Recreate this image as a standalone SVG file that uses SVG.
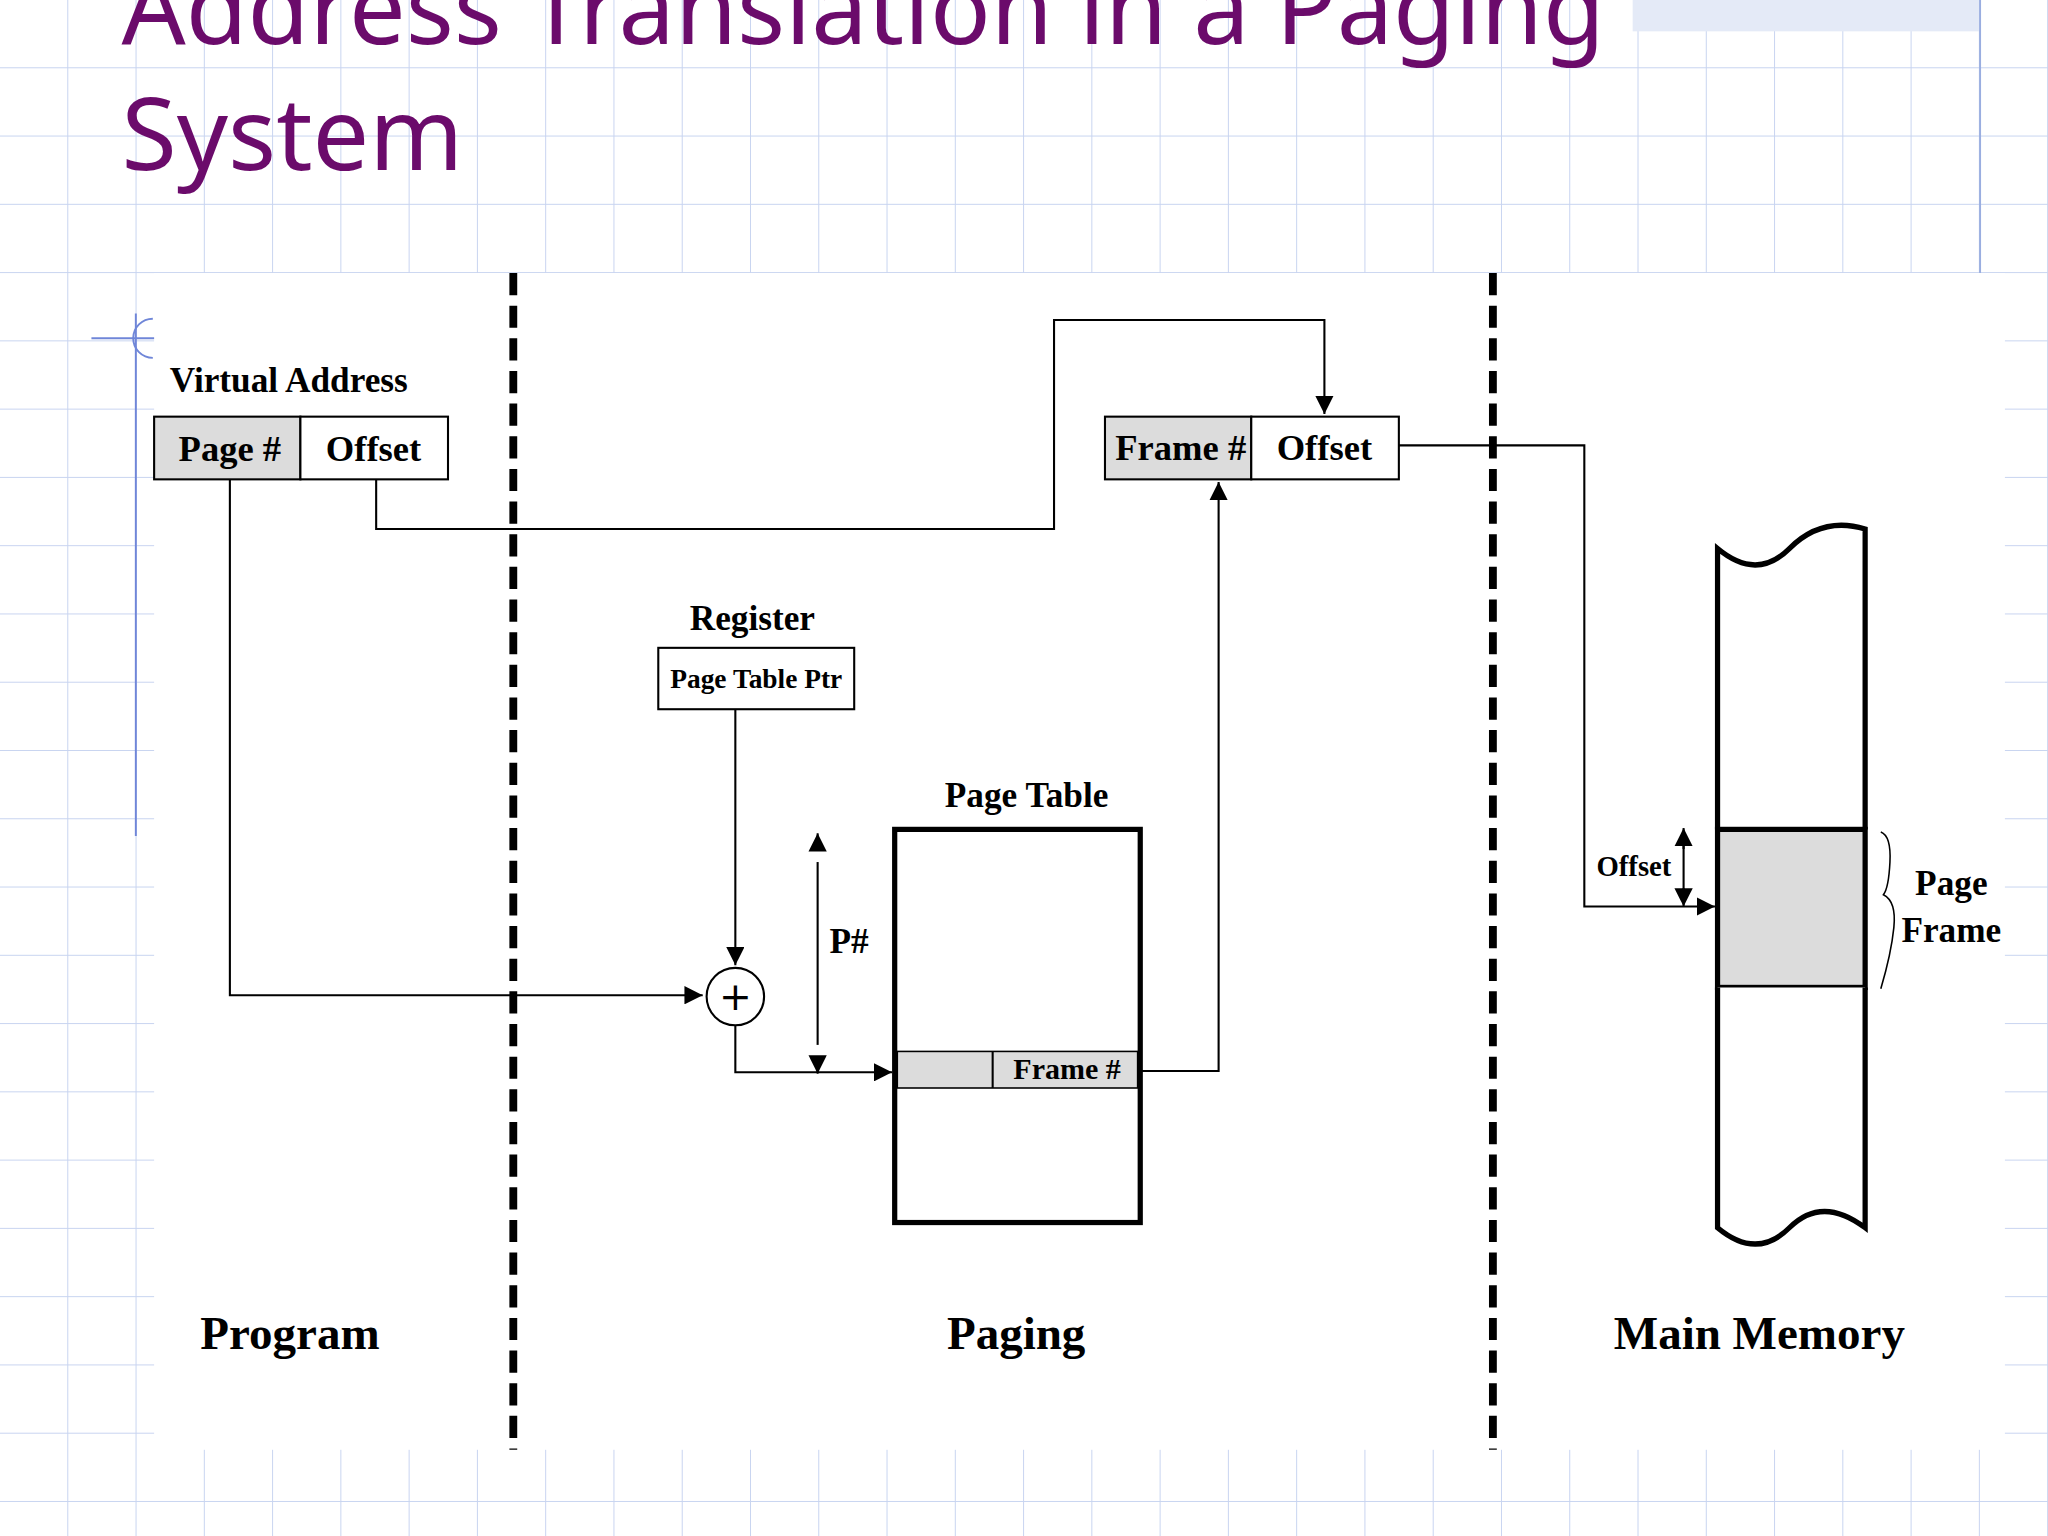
<svg xmlns="http://www.w3.org/2000/svg" width="2048" height="1536" viewBox="0 0 2048 1536">
<defs>
<pattern id="grid" x="0" y="0" width="52.27" height="52.27" patternUnits="userSpaceOnUse">
<path d="M52.27 0V52.27M0 52.27H52.27" fill="none" stroke="#c8d4f0" stroke-width="1.5"/>
</pattern>
<marker id="ah" viewBox="0 0 10 10" refX="10" refY="5" markerWidth="14" markerHeight="14" markerUnits="userSpaceOnUse" orient="auto"><path d="M0 0L10 5L0 10z" fill="#000"/></marker>
<style>
.s{font-family:"Liberation Serif",serif;font-weight:bold;fill:#000}
.ln{fill:none;stroke:#000;stroke-width:1.6}
.bx{stroke:#000;stroke-width:1.6}
.dash{stroke:#000;stroke-width:6;stroke-dasharray:17 8}
</style>
</defs>
<g transform="scale(1.30612)">
<rect width="1568" height="1176" fill="#fff"/>
<rect width="1568" height="1176" fill="url(#grid)"/>
<rect x="1250" y="0" width="266" height="24" fill="#e4eaf7"/>
<line x1="1516" y1="0" x2="1516" y2="209" stroke="#9aaee0" stroke-width="1.5"/>
<rect x="118" y="209" width="1417" height="901" fill="#fff"/>
<line x1="104" y1="240" x2="104" y2="640" stroke="#6f86d8" stroke-width="1.5"/>
<line x1="70" y1="259" x2="118" y2="259" stroke="#6f86d8" stroke-width="1.5"/>
<path d="M117 244A15 15 0 1 0 117 274" fill="none" stroke="#6f86d8" stroke-width="1.5"/>
<text x="93" y="34" font-family="'Noto Sans',sans-serif" font-size="77" fill="#6b0b6b">Address Translation in a Paging</text>
<text x="93" y="130" font-family="'Noto Sans',sans-serif" font-size="77" fill="#6b0b6b">System</text>
<g id="dividers"><line class="dash" x1="393" y1="209" x2="393" y2="1110"/><line class="dash" x1="1143" y1="209" x2="1143" y2="1110"/></g>
<g id="virtual-address">
<text class="s" x="130" y="300" font-size="27">Virtual Address</text>
<rect class="bx" x="118" y="319" width="112" height="48" fill="#dcdcdc"/>
<rect class="bx" x="230" y="319" width="113" height="48" fill="#fff"/>
<text class="s" x="176" y="353" font-size="28" text-anchor="middle">Page #</text>
<text class="s" x="286" y="353" font-size="28" text-anchor="middle">Offset</text>
</g>
<g id="physical-address">
<rect class="bx" x="846" y="319" width="112" height="48" fill="#dcdcdc"/>
<rect class="bx" x="958" y="319" width="113" height="48" fill="#fff"/>
<text class="s" x="904" y="352" font-size="28" text-anchor="middle">Frame #</text>
<text class="s" x="1014" y="352" font-size="28" text-anchor="middle">Offset</text>
</g>
<g id="register">
<text class="s" x="576" y="482" font-size="27" text-anchor="middle">Register</text>
<rect class="bx" x="504" y="496" width="150" height="47" fill="#fff"/>
<text class="s" x="579" y="527" font-size="21" text-anchor="middle">Page Table Ptr</text>
</g>
<g id="adder"><circle cx="563" cy="763" r="22" fill="#fff" stroke="#000" stroke-width="1.6"/><text x="563" y="773" font-family="'DejaVu Sans',sans-serif" font-size="30" text-anchor="middle">+</text></g>
<g id="page-table">
<text class="s" x="786" y="618" font-size="27" text-anchor="middle">Page Table</text>
<rect x="685" y="635" width="188" height="301" fill="#fff" stroke="#000" stroke-width="4"/>
<rect x="687" y="805" width="184" height="28" fill="#dcdcdc" stroke="#000" stroke-width="1.2"/>
<line class="ln" x1="760" y1="805" x2="760" y2="833"/>
<text class="s" x="817" y="826" font-size="23" text-anchor="middle">Frame #</text>
<text class="s" x="650" y="730" font-size="27" text-anchor="middle">P#</text>
</g>
<g id="main-memory">
<path d="M1315 635V420Q1345 445 1370 420T1428 405V635" fill="#fff" stroke="#000" stroke-width="4"/>
<rect x="1315" y="635" width="113" height="121" fill="#dcdcdc" stroke="#000" stroke-width="4"/>
<path d="M1315 756V940Q1345 965 1370 940T1428 940V756" fill="#fff" stroke="#000" stroke-width="4"/>
<path d="M1440 637Q1448 640 1447 660T1442 685Q1452 690 1450 710T1440 757" fill="none" stroke="#000" stroke-width="1.2"/>
<text class="s" x="1494" y="685" font-size="27" text-anchor="middle">Page</text>
<text class="s" x="1494" y="721" font-size="27" text-anchor="middle">Frame</text>
<text class="s" x="1251" y="671" font-size="22" text-anchor="middle">Offset</text>
</g>
<g id="labels">
<text class="s" x="222" y="1033" font-size="36" text-anchor="middle">Program</text>
<text class="s" x="778" y="1033" font-size="36" text-anchor="middle">Paging</text>
<text class="s" x="1347" y="1033" font-size="36" text-anchor="middle">Main Memory</text>
</g>
<g id="connectors">
<polyline class="ln" points="176,367 176,762 538,762" marker-end="url(#ah)"/>
<polyline class="ln" points="288,367 288,405 807,405 807,245 1014,245 1014,317" marker-end="url(#ah)"/>
<polyline class="ln" points="563,543 563,739" marker-end="url(#ah)"/>
<polyline class="ln" points="563,785 563,821 683,821" marker-end="url(#ah)"/>
<line class="ln" x1="626" y1="660" x2="626" y2="800"/>
<line class="ln" x1="626" y1="650" x2="626" y2="638" marker-end="url(#ah)"/>
<line class="ln" x1="626" y1="810" x2="626" y2="822" marker-end="url(#ah)"/>
<polyline class="ln" points="873,820 933,820 933,369" marker-end="url(#ah)"/>
<polyline class="ln" points="1071,341 1213,341 1213,694 1313,694" marker-end="url(#ah)"/>
<line class="ln" x1="1289" y1="645" x2="1289" y2="685"/>
<line class="ln" x1="1289" y1="650" x2="1289" y2="634" marker-end="url(#ah)"/>
<line class="ln" x1="1289" y1="680" x2="1289" y2="694" marker-end="url(#ah)"/>
</g>
</g>
</svg>
